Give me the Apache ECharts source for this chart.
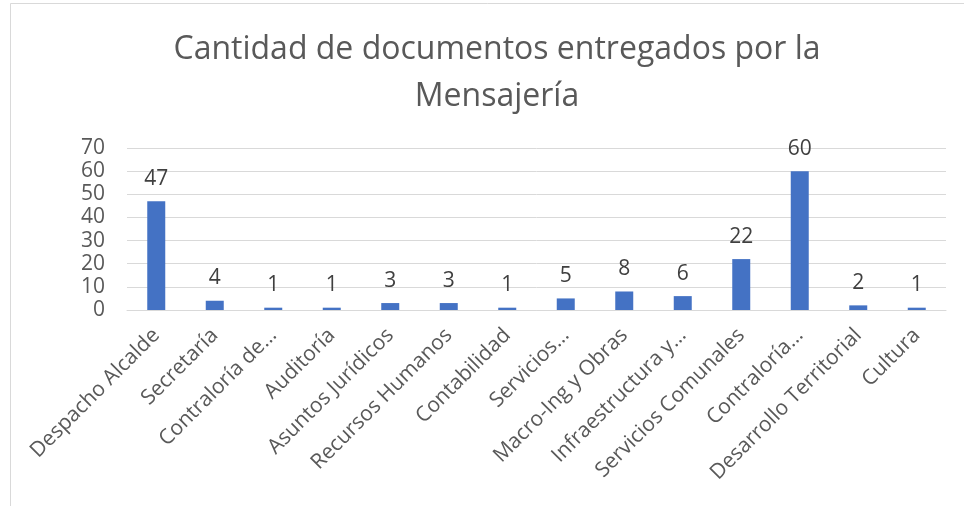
<!DOCTYPE html>
<html>
<head>
<meta charset="utf-8">
<script src="https://cdn.jsdelivr.net/npm/echarts@6/dist/echarts.min.js"></script>
<style>
  html, body { margin: 0; padding: 0; background: #fff; }
  #chart { width: 964px; height: 506px; }
</style>
</head>
<body>
<div id="chart"></div>
<script>
// datos del gráfico
const categorias = [
  'Despacho Alcalde', 'Secretaría', 'Contraloría de…', 'Auditoría',
  'Asuntos Jurídicos', 'Recursos Humanos', 'Contabilidad', 'Servicios…',
  'Macro-Ing y Obras', 'Infraestructura y…', 'Servicios Comunales',
  'Contraloría…', 'Desarrollo Territorial', 'Cultura'
]
const documentos = [47, 4, 1, 1, 3, 3, 1, 5, 8, 6, 22, 60, 2, 1]
const titulo = 'Cantidad de documentos entregados por la\nMensajería'

const fuente = '"Open Sans", "DejaVu Sans", sans-serif'

const chart = echarts.init(document.getElementById('chart'), null, { renderer: 'canvas' })

const option = {
  backgroundColor: '#fff',
  animation: false,
  graphic: [
    {
      type: 'rect',
      shape: { x: 10.5, y: 3.5, width: 1000, height: 600 },
      style: { fill: 'none', stroke: '#d9d9d9', lineWidth: 1 },
      silent: true
    }
  ],
  title: {
    text: titulo,
    left: 492,
    top: 21,
    textAlign: 'center',
    textStyle: {
      fontFamily: fuente,
      fontSize: 32,
      fontWeight: 'normal',
      color: '#595959',
      lineHeight: 47
    }
  },
  grid: {
    left: 127,
    right: 18,
    top: 148,
    bottom: 196
  },
  xAxis: {
    type: 'category',
    data: categorias,
    axisLine: { lineStyle: { color: '#d9d9d9', width: 1 } },
    axisTick: { show: false },
    axisLabel: {
      interval: 0,
      rotate: 45,
      margin: 22,
      fontFamily: fuente,
      fontSize: 21,
      color: '#595959'
    }
  },
  yAxis: {
    type: 'value',
    min: 0,
    max: 70,
    interval: 10,
    axisLine: { show: false },
    axisTick: { show: false },
    splitLine: { lineStyle: { color: '#d9d9d9', width: 1 } },
    axisLabel: {
      margin: 22,
      fontFamily: fuente,
      fontSize: 21,
      color: '#595959'
    }
  },
  series: [
    {
      name: 'Documentos',
      type: 'bar',
      data: documentos,
      barWidth: 18,
      itemStyle: { color: '#4472c4' },
      label: {
        show: true,
        position: 'top',
        distance: 12,
        fontFamily: fuente,
        fontSize: 21,
        color: '#404040'
      }
    }
  ]
}

chart.setOption(option)
</script>
</body>
</html>
